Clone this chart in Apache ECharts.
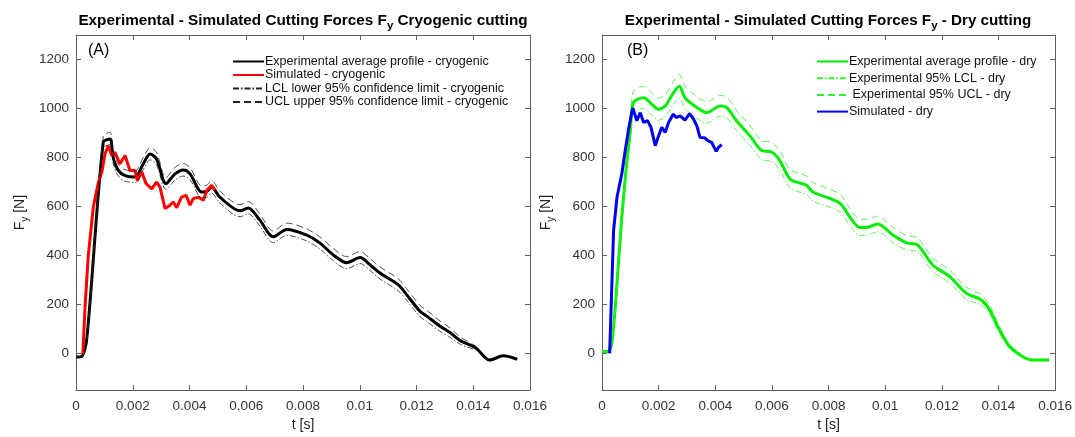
<!DOCTYPE html>
<html>
<head>
<meta charset="utf-8">
<script src="https://cdn.jsdelivr.net/npm/echarts@6/dist/echarts.min.js"></script>
<style>html,body{margin:0;padding:0;background:#fff;}#c{width:1075px;height:437px;}</style>
</head>
<body>
<div id="c"></div>
<script>
// ---- (A) Cryogenic cutting ----
const tA = [0, 0.0002, 0.00038, 0.00096, 0.0012, 0.00131, 0.00149, 0.00173, 0.00208, 0.00237, 0.00261, 0.00284, 0.00317, 0.00349, 0.00378, 0.00402, 0.00443, 0.00461, 0.00478, 0.00507, 0.00578, 0.00607, 0.00648, 0.00695, 0.00743, 0.00813, 0.0086, 0.00907, 0.00954, 0.01001, 0.01036, 0.01071, 0.01118, 0.01142, 0.01165, 0.01212, 0.01236, 0.01283, 0.01318, 0.01353, 0.01409, 0.01458, 0.01506, 0.01555];
const avgA = [-15, -12, 59, 862, 875, 800, 747, 726, 720, 774, 814, 794, 693, 733, 749, 733, 659, 661, 679, 638, 582, 594, 544, 476, 506, 483, 450, 402, 370, 391, 362, 328, 294, 273, 240, 172, 152, 111, 85, 53, 22, -27, -10, -24];
const uclA = [-13, -10, 75, 886, 903, 826, 772, 750, 744, 799, 840, 820, 718, 760, 775, 758, 684, 687, 705, 663, 607, 620, 569, 500, 532, 508, 475, 428, 395, 416, 387, 353, 319, 298, 264, 196, 176, 132, 104, 68, 30];
const lclA = [-17, -14, 45, 838, 852, 776, 724, 703, 697, 750, 790, 769, 670, 708, 724, 709, 636, 637, 654, 614, 558, 570, 520, 452, 482, 459, 426, 378, 346, 367, 338, 304, 270, 249, 217, 150, 130, 90, 66, 38, 14];
const tSimA = [0.00024, 0.00032, 0.00043, 0.00061, 0.00079, 0.00091, 0.00102, 0.00114, 0.00126, 0.00137, 0.00155, 0.00173, 0.0019, 0.00208, 0.00216, 0.00232, 0.00247, 0.00267, 0.00284, 0.00296, 0.00314, 0.00331, 0.00343, 0.00355, 0.00372, 0.00388, 0.00402, 0.00413, 0.00431, 0.00449, 0.00461, 0.00478, 0.0049];
const simA = [-2, 193, 395, 598, 699, 740, 814, 848, 808, 821, 774, 808, 747, 747, 706, 740, 693, 672, 699, 679, 591, 605, 618, 595, 638, 645, 605, 632, 638, 625, 666, 686, 666];

// ---- (B) Dry cutting ----
const tB = [0, 0.0002, 0.00035, 0.00053, 0.0007, 0.00088, 0.001, 0.00111, 0.00147, 0.00176, 0.00199, 0.00223, 0.00252, 0.00273, 0.00293, 0.00335, 0.0037, 0.00417, 0.0044, 0.00475, 0.00522, 0.00564, 0.00599, 0.00628, 0.00663, 0.00699, 0.00722, 0.00745, 0.00839, 0.00875, 0.0091, 0.00933, 0.00974, 0.01027, 0.01074, 0.01115, 0.01168, 0.01227, 0.01286, 0.01338, 0.01368, 0.01403, 0.01438, 0.01485, 0.0152, 0.01579];
const avgB = [8, 8, 44, 287, 557, 787, 909, 1024, 1044, 1017, 997, 1010, 1064, 1091, 1044, 1004, 983, 1010, 1004, 950, 889, 828, 822, 787, 713, 695, 686, 659, 614, 557, 514, 514, 528, 483, 452, 442, 361, 314, 246, 219, 179, 97, 30, -13, -27, -27];
const uclB = [8, 8, 50, 300, 575, 815, 945, 1070, 1090, 1062, 1042, 1055, 1110, 1139, 1090, 1048, 1027, 1053, 1047, 992, 930, 868, 862, 826, 752, 734, 724, 697, 650, 592, 548, 547, 560, 514, 482, 471, 390, 341, 270, 241, 198, 112, 40, -8];
const lclB = [8, 8, 40, 275, 540, 760, 870, 978, 1000, 972, 952, 966, 1018, 1040, 1000, 960, 940, 968, 962, 910, 850, 790, 784, 750, 676, 658, 650, 623, 578, 523, 481, 482, 497, 453, 423, 414, 334, 288, 222, 198, 161, 83, 20, -18];
const tSimB = [0.00027, 0.00041, 0.00053, 0.0007, 0.00082, 0.00094, 0.00106, 0.00109, 0.00123, 0.00135, 0.00147, 0.00161, 0.00173, 0.00188, 0.002, 0.00211, 0.00223, 0.00235, 0.00252, 0.00262, 0.00276, 0.00293, 0.00309, 0.00323, 0.00335, 0.00346, 0.00364, 0.00375, 0.00387, 0.00403, 0.00411, 0.00423];
const simB = [0, 503, 638, 733, 828, 916, 990, 1001, 950, 983, 943, 950, 923, 848, 889, 923, 902, 943, 977, 963, 970, 952, 979, 957, 929, 882, 879, 868, 862, 825, 841, 852];

const yTickValues = [0, 200, 400, 600, 800, 1000, 1200];
const namesA = ['Experimental average profile - cryogenic', 'Simulated - cryogenic', 'LCL lower 95% confidence limit - cryogenic', 'UCL upper 95% confidence limit - cryogenic'];
const namesB = ['Experimental average profile - dry', 'Experimental 95% LCL - dry', ' Experimental 95% UCL - dry', 'Simulated - dry'];

const pairs = (t, v) => v.map((y, i) => [t[i], y]);
const FONT = 'Liberation Sans, Arial, sans-serif';
const AX = '#606060';

function xAx(grid, pos) {
  const bottom = pos === 'bottom';
  return {
    type: 'value', gridIndex: grid, position: pos, min: 0, max: 0.016, interval: 0.002,
    name: bottom ? 't [s]' : '', nameLocation: 'middle', nameGap: 27,
    nameTextStyle: { fontFamily: FONT, fontSize: 14, color: '#222' },
    axisLine: { show: true, onZero: false, lineStyle: { color: AX, width: 1 } },
    axisTick: { show: true, inside: true, length: 5, lineStyle: { color: AX } },
    axisLabel: { show: bottom, fontFamily: FONT, fontSize: 13.5, color: '#333', margin: 9,
      formatter: v => String(+v.toFixed(3)) },
    splitLine: { show: false }
  };
}
function yAx(grid, pos) {
  const left = pos === 'left';
  return {
    type: 'value', gridIndex: grid, position: pos, min: -150, max: 1300,
    name: left ? 'F{sub|y} [N]' : '', nameLocation: 'middle', nameGap: 46, nameRotate: 90,
    nameTextStyle: { fontFamily: FONT, fontSize: 14, color: '#222',
      rich: { sub: { fontFamily: FONT, fontSize: 10, color: '#222', padding: [9, 0, 0, 0] } } },
    axisLine: { show: true, onZero: false, lineStyle: { color: AX, width: 1 } },
    axisTick: { show: true, inside: true, length: 5, customValues: yTickValues, lineStyle: { color: AX } },
    axisLabel: { show: left, customValues: yTickValues, fontFamily: FONT, fontSize: 13.5, color: '#333', margin: 7,
      formatter: v => String(v) },
    splitLine: { show: false }
  };
}
function line(name, data, xi, yi, color, width, type, smooth) {
  return {
    name, type: 'line', data, xAxisIndex: xi, yAxisIndex: yi, showSymbol: false, symbol: 'none',
    smooth: smooth, animation: false, z: 3,
    lineStyle: { color, width, type: type || 'solid' }, itemStyle: { color }
  };
}

const titleRich = { sub: { fontFamily: FONT, fontSize: 11.5, fontWeight: 'bold', color: '#000', padding: [10, 0, 0, 0] } };
const legendCommon = {
  orient: 'vertical', itemWidth: 31, itemHeight: 10,
  itemStyle: { opacity: 0 },
  textStyle: { fontFamily: FONT, fontSize: 12.5, lineHeight: 12, color: '#111', padding: [0, 0, 0, -4] }
};
const chart = echarts.init(document.getElementById('c'), null, { renderer: 'canvas' });
chart.setOption({
  backgroundColor: '#fff',
  animation: false,
  title: [
    { text: 'Experimental - Simulated Cutting Forces F{sub|y} Cryogenic cutting', left: 298, top: 5, textAlign: 'center',
      textStyle: { fontFamily: FONT, fontSize: 15.3, fontWeight: 'bold', color: '#000', rich: titleRich } },
    { text: 'Experimental - Simulated Cutting Forces F{sub|y} - Dry cutting', left: 823, top: 5, textAlign: 'center',
      textStyle: { fontFamily: FONT, fontSize: 15.2, fontWeight: 'bold', color: '#000', rich: titleRich } }
  ],
  graphic: [
    { type: 'text', left: 88, top: 43, style: { text: '(A)', font: '16px ' + FONT, fill: '#000' } },
    { type: 'text', left: 627, top: 43, style: { text: '(B)', font: '16px ' + FONT, fill: '#000' } }
  ],
  legend: [
    Object.assign({ data: namesA, left: 227, top: 50, itemGap: 0.5 }, legendCommon),
    Object.assign({ data: namesB, left: 811, top: 50, itemGap: 3.7 }, legendCommon)
  ],
  grid: [
    { left: 76, right: 545, top: 35, bottom: 46 },
    { left: 602, right: 19, top: 35, bottom: 46 }
  ],
  xAxis: [xAx(0, 'bottom'), xAx(0, 'top'), xAx(1, 'bottom'), xAx(1, 'top')],
  yAxis: [yAx(0, 'left'), yAx(0, 'right'), yAx(1, 'left'), yAx(1, 'right')],
  series: [
    line(namesA[0], pairs(tA, avgA), 0, 0, '#000000', 3, 'solid', 0.3),
    line(namesA[1], pairs(tSimA, simA), 0, 0, '#ff0000', 3, 'solid', false),
    line(namesA[2], pairs(tA, lclA), 0, 0, '#222222', 0.8, [6, 2, 1.5, 2], 0.3),
    line(namesA[3], pairs(tA, uclA), 0, 0, '#222222', 0.8, [7, 4], 0.3),
    line(namesB[0], pairs(tB, avgB), 2, 2, '#00ee00', 3, 'solid', 0.3),
    line(namesB[1], pairs(tB, lclB), 2, 2, '#33ee33', 0.8, [6, 2, 1.5, 2], 0.3),
    line(namesB[2], pairs(tB, uclB), 2, 2, '#33ee33', 0.8, [7, 4], 0.3),
    line(namesB[3], pairs(tSimB, simB), 2, 2, '#0000ee', 3, 'solid', false)
  ]
});
</script>
</body>
</html>
